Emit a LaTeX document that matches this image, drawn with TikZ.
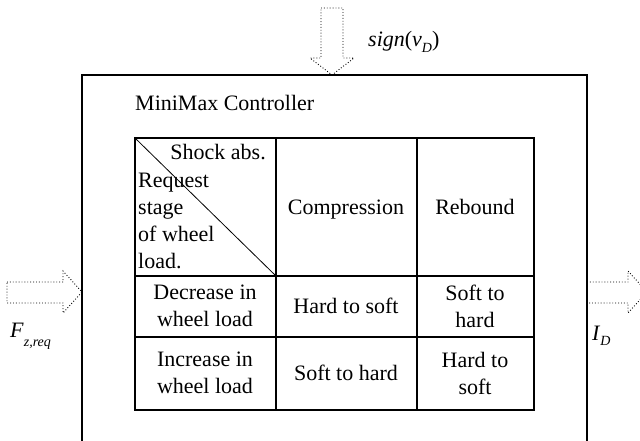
\documentclass[tikz,border=0pt]{standalone}
\usepackage{fontspec}
\setmainfont{Liberation Serif}
\usetikzlibrary{positioning}

\newcommand{\subit}[2][0.55ex]{\raisebox{-#1}{\fontsize{14}{14}\selectfont\textit{#2}}}

\begin{document}
\begin{tikzpicture}[x=1pt,y=-1pt,
  cell/.style={align=center,inner sep=0pt,font=\fontsize{22}{27}\selectfont},
  sig/.style={inner sep=0pt,font=\fontsize{22}{27}\selectfont},
  frame/.style={line width=1.5pt},
  dotarrow/.style={dotted,line width=0.9pt}]
  \useasboundingbox (0,0) rectangle (640,441);

  % controller box, open at the bottom
  \draw[frame] (82,441) -- (82,75) -- (587,75) -- (587,441);
  \node[cell,anchor=west] (title) at (135,103) {MiniMax Controller};

  % table
  \draw[frame] (135,138) rectangle (534,410);
  \draw[frame] (276,138) -- (276,410);
  \draw[frame] (417,138) -- (417,410);
  \draw[frame] (135,276) -- (534,276);
  \draw[frame] (135,337) -- (534,337);
  \draw[line width=0.8pt] (135,138) -- (276,276);

  \node[cell,anchor=base east] (shock) at (266,160) {Shock abs.};
  \node[cell,anchor=base west] (req1) at (138,187) {Request};
  \node[cell,anchor=base west] (req2) at (138,214) {stage};
  \node[cell,anchor=base west] (req3) at (138,241) {of wheel};
  \node[cell,anchor=base west] (req4) at (138,268) {load.};

  \node[cell,anchor=base] (comp) at (346,214) {Compression};
  \node[cell,anchor=base] (reb) at (475,214) {Rebound};
  \node[cell] (dec) at (205,306) {Decrease in\\wheel load};
  \node[cell,anchor=base] (dechs) at (346,313) {Hard to soft};
  \node[cell] (decsh) at (475,306) {Soft to\\hard};
  \node[cell] (inc) at (205,373) {Increase in\\wheel load};
  \node[cell,anchor=base] (incsh) at (346,380) {Soft to hard};
  \node[cell] (inchs) at (475,373) {Hard to\\soft};

  % inputs and output
  \draw[dotarrow] (321,8) -- (343,8) -- (343,58) -- (354,58) -- (332,75)
    -- (310,58) -- (321,58) -- cycle;
  \draw[dotarrow] (7,282) -- (63,282) -- (63,271) -- (82,292) -- (63,313)
    -- (63,303) -- (7,303) -- cycle;
  \draw[dotarrow] (587,282) -- (628,282) -- (628,271) -- (647,292)
    -- (628,313) -- (628,303) -- (587,303);

  \node[sig,anchor=base west] (sign) at (368,47) {\textit{sign}(\textit{v}\subit{D})};
  \node[sig,anchor=base west] (force) at (10,337) {\textit{F}\subit[0.9ex]{z,req}};
  \node[sig,anchor=base west] (curr) at (592,340) {\textit{I}\subit{D}};
\end{tikzpicture}
\end{document}
